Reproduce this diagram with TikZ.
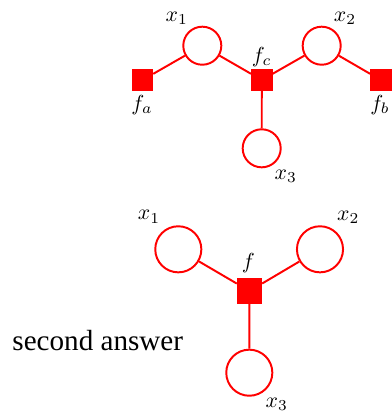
\documentclass[tikz,border=0pt]{standalone}
\usepackage{fontspec}
\usepackage{tikz}
\usetikzlibrary{positioning}
\newfontfamily\answerfont{Liberation Serif}
\definecolor{fgred}{RGB}{255, 0, 0}
\tikzset{
  var/.style={
    circle, draw=fgred, line width=0.9pt, fill=white,
    minimum size=17.5pt, inner sep=0pt,
  },
  var lg/.style={var, minimum size=21.2pt},
  fac/.style={
    rectangle, draw=fgred, fill=fgred, line width=0.9pt,
    minimum size=9pt, inner sep=0pt,
  },
  fac lg/.style={fac, minimum size=10.8pt},
  edge/.style={draw=fgred, line width=0.9pt},
  lbl/.style={inner sep=0pt},
}

\begin{document}
\begin{tikzpicture}[x=0.46pt, y=-0.46pt]
\useasboundingbox (0,0) rectangle (392,411);

% first graph
\node[fac] (fa) at (142.5,80) {};
\node[var] (x1) at (202.3,45.7) {};
\node[fac] (fc) at (261.8,80) {};
\node[var] (x2) at (321.7,45.7) {};
\node[fac] (fb) at (380.8,80) {};
\node[var] (x3) at (261.7,148.3) {};

\node[lbl] (lx1) at (176.7,18.3) {$x_1$};
\node[lbl] (lx2) at (345,18.3) {$x_2$};
\node[lbl] (lfc) at (261.7,57) {$f_c$};
\node[lbl] (lfa) at (142,105) {$f_a$};
\node[lbl] (lfb) at (380,105) {$f_b$};
\node[lbl] (lx3) at (285.7,176) {$x_3$};

\draw[edge] (fa) -- (x1);
\draw[edge] (x1) -- (fc);
\draw[edge] (fc) -- (x2);
\draw[edge] (x2) -- (fb);
\draw[edge] (fc) -- (x3);

% second graph
\node[fac lg] (f) at (249.5,291) {};
\node[var lg] (y1) at (178.3,249.3) {};
\node[var lg] (y2) at (320,249.3) {};
\node[var lg] (y3) at (249.3,372.7) {};

\node[lbl] (ly1) at (149,216.7) {$x_1$};
\node[lbl] (ly2) at (348.3,217.3) {$x_2$};
\node[lbl] (lf) at (248.3,263) {$f$};
\node[lbl] (ly3) at (276.7,404) {$x_3$};

\draw[edge] (y1) -- (f);
\draw[edge] (f) -- (y2);
\draw[edge] (f) -- (y3);

\node[lbl, anchor=base west] (ans) at (12,350)
  {\answerfont\fontsize{13.4}{16}\selectfont second answer};

\end{tikzpicture}
\end{document}
